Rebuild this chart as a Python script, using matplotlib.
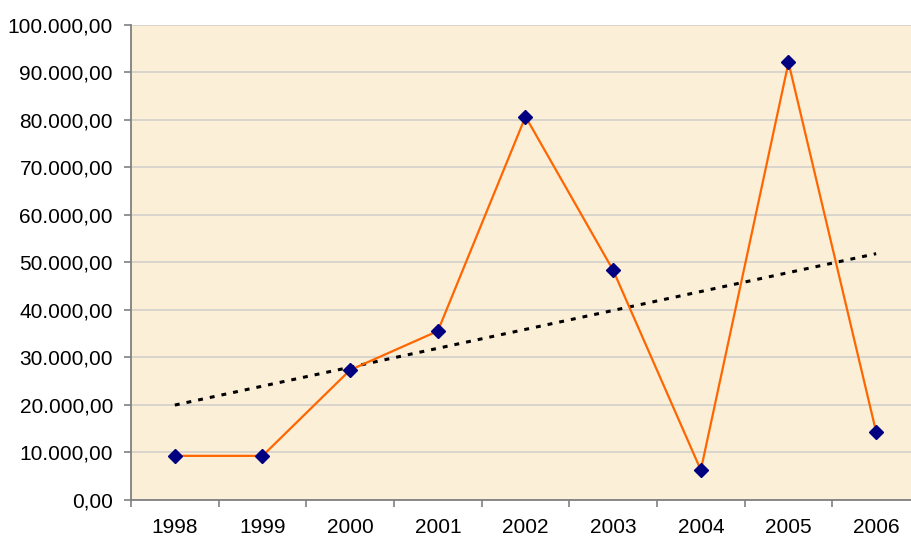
import numpy as np
import matplotlib
matplotlib.use('Agg')
import matplotlib.pyplot as plt
from matplotlib.ticker import FuncFormatter, MultipleLocator

years = ['1998', '1999', '2000', '2001', '2002', '2003', '2004', '2005', '2006']
values = [9200, 9200, 27300, 35500, 80700, 48300, 6200, 92100, 14200]

plt.rcParams['font.family'] = ['Liberation Sans', 'DejaVu Sans']

x = np.arange(len(years))
slope, intercept = np.polyfit(x, values, 1)
trend = slope * x + intercept

fig = plt.figure(figsize=(9.12, 5.37), dpi=100)
# plot area runs a bit past the right edge, like the original
ax = fig.add_axes([131 / 912, 37.5 / 537, 789 / 912, 474.5 / 537])
ax.set_facecolor('#fbefd8')

ax.plot(x, trend, color='black', lw=2.2, linestyle=(0, (1.6, 2.3)), zorder=3)
ax.plot(x, values, color='#ff6600', lw=1.6, marker='D', markersize=7,
        markerfacecolor='#000080', markeredgecolor='#000080', zorder=4)

ax.set_xlim(-0.5, len(years) - 0.5)
ax.set_ylim(0, 100000)
ax.yaxis.set_major_locator(MultipleLocator(10000))


def fmt(v, pos):
    s = f"{v:,.2f}"
    return s.replace(',', 'X').replace('.', ',').replace('X', '.')


ax.yaxis.set_major_formatter(FuncFormatter(fmt))
ax.grid(axis='y', color='#d6d3cc', lw=1.3, zorder=1)
ax.set_axisbelow(True)

ax.set_xticks(x)
ax.set_xticklabels(years)
ax.set_xticks(np.arange(-0.5, len(years)), minor=True)
ax.tick_params(axis='x', which='major', length=0, pad=13, labelsize=15)
ax.tick_params(axis='x', which='minor', length=5, width=1.2, color='#808080')
ax.tick_params(axis='y', length=5, width=1.2, color='#808080', pad=8, labelsize=15)

for side in ['top', 'right']:
    ax.spines[side].set_visible(False)
for side in ['left', 'bottom']:
    ax.spines[side].set_color('#808080')
    ax.spines[side].set_linewidth(1.3)

fig.savefig('out.png', dpi=100)
